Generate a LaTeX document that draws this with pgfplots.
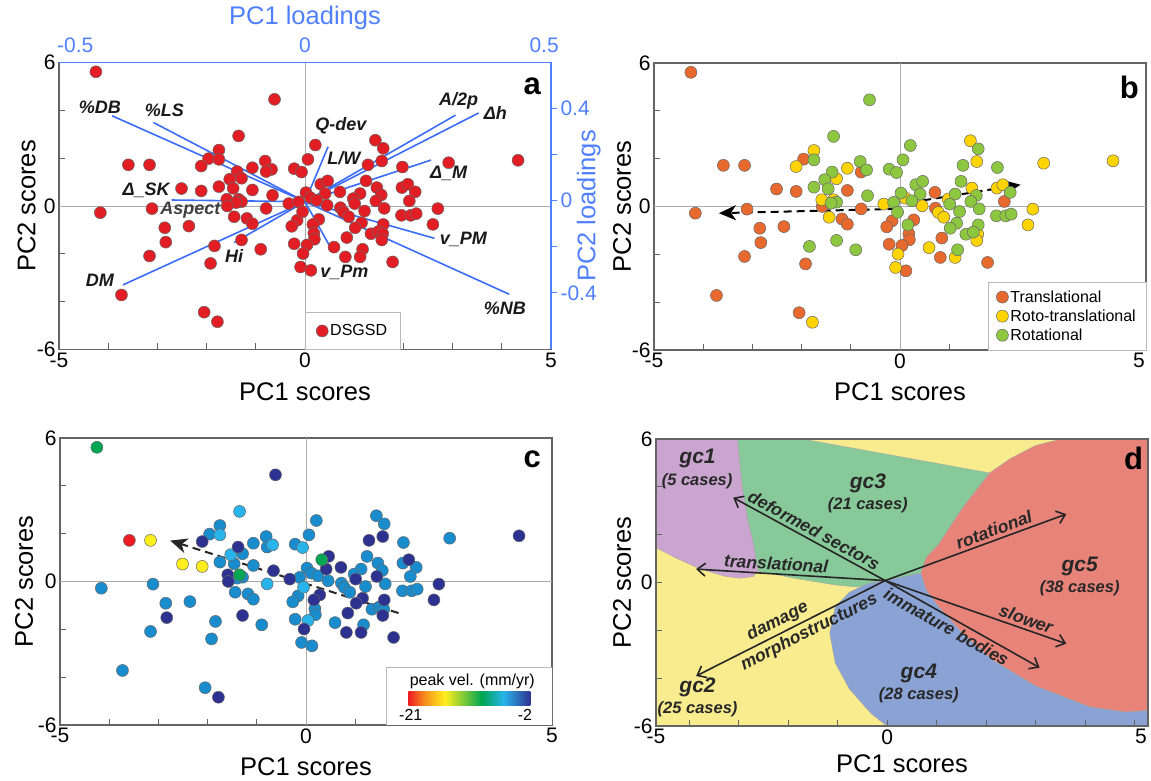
\documentclass[border=0pt]{standalone}
\usepackage{fontspec}
\setmainfont{Liberation Sans}
\usepackage{pgfplots}
\pgfplotsset{compat=1.18}
\usepackage{pgfplotstable}
\usetikzlibrary{arrows.meta}

\definecolor{ptred}{RGB}{226,30,36}
\definecolor{cT}{RGB}{232,105,45}
\definecolor{cR}{RGB}{255,212,0}
\definecolor{cG}{RGB}{141,198,63}
\definecolor{vM}{RGB}{25,140,205}
\definecolor{vL}{RGB}{40,180,234}
\definecolor{vN}{RGB}{45,50,145}
\definecolor{vG}{RGB}{0,166,81}
\definecolor{vR}{RGB}{237,28,36}
\definecolor{vY}{RGB}{255,238,30}
\definecolor{vO}{RGB}{247,148,29}
\definecolor{ldblue}{RGB}{60,108,250}
\definecolor{axblue}{RGB}{80,128,255}
\definecolor{frame}{RGB}{100,100,100}
\definecolor{rY}{RGB}{248,236,142}
\definecolor{rP}{RGB}{201,165,207}
\definecolor{rG}{RGB}{136,201,153}
\definecolor{rR}{RGB}{232,131,122}
\definecolor{rB}{RGB}{138,163,212}
\definecolor{txt}{RGB}{40,40,40}

\pgfdeclarehorizontalshading{jetbar}{100bp}{color(0bp)=(vR); color(25bp)=(vR); color(32bp)=(vO); color(40bp)=(vY); color(55bp)=(vG); color(64bp)=(vL); color(75bp)=(vN); color(100bp)=(vN)}

% PC scores: x y class(0 transl.,1 roto-transl.,2 rotational) velocity class (0 mid,1 light,2 navy,3 green,4 red,5 yellow)
\pgfplotstableread{
x y cls vel
-4.25 5.61 0 3
-0.62 4.46 2 2
-1.35 2.93 2 1
0.21 2.55 2 0
1.43 2.75 1 0
1.59 2.41 2 0
-1.75 2.34 1 0
-1.96 1.98 0 0
-1.75 1.95 2 1
-3.59 1.72 0 4
-3.16 1.72 0 5
-2.11 1.67 1 2
-1.07 1.60 1 0
-0.81 1.88 2 0
-0.68 1.53 2 1
-0.79 1.44 0 0
-0.22 1.56 2 0
-0.07 1.42 2 1
0.06 1.95 2 0
1.56 1.88 1 2
1.28 1.72 2 2
1.98 1.63 2 0
2.92 1.81 1 0
4.33 1.91 1 2
-1.38 1.44 2 2
-1.29 1.16 1 0
-1.53 1.12 2 1
-2.51 0.73 0 5
-2.11 0.63 0 5
-1.75 0.81 2 0
-1.46 0.74 2 0
-1.07 0.67 0 0
-0.66 0.45 2 2
0.32 0.91 2 3
0.46 1.05 2 2
1.24 1.05 2 0
1.46 0.77 1 0
0.71 0.59 0 2
0.41 0.52 2 2
0.02 0.56 2 0
0.11 0.35 1 0
1.12 0.52 2 0
0.98 0.31 1 0
1.55 0.46 2 0
1.97 0.77 1 0
2.09 0.91 1 2
2.24 0.59 2 0
-1.59 0.28 1 2
-1.35 0.28 1 3
-1.29 0.18 2 0
-1.40 0.14 2 0
-0.33 0.10 1 2
-0.13 0.17 2 0
0.24 0.24 2 0
0.45 0.03 1 0
0.72 -0.07 0 0
0.78 -0.25 1 0
1.01 0.10 2 2
1.44 0.21 2 2
1.61 -0.10 2 0
2.12 0.21 0 0
2.70 -0.11 1 2
-4.16 -0.28 0 0
-3.11 -0.11 0 0
-1.58 0.00 0 2
-0.79 -0.10 0 1
-1.44 -0.45 1 0
-1.18 -0.52 0 0
-1.07 -0.74 0 0
-0.16 -0.60 0 0
-0.27 -0.85 0 0
-0.05 -0.24 2 1
0.28 -0.56 0 2
0.16 -0.77 2 2
0.89 -0.45 1 0
1.21 -0.21 2 0
1.15 -0.70 2 2
1.02 -0.91 2 2
1.59 -0.77 2 2
1.96 -0.39 2 0
2.15 -0.39 2 0
2.26 -0.32 2 0
2.60 -0.77 1 2
-2.85 -0.91 0 0
-2.36 -0.84 0 0
-2.83 -1.51 0 2
-1.29 -1.42 2 2
-1.84 -1.67 2 0
-0.90 -1.81 2 0
-0.22 -1.58 0 0
0.18 -1.14 0 0
0.19 -1.39 0 0
0.04 -1.63 0 1
0.59 -1.72 1 0
0.85 -1.32 0 2
1.34 -1.16 2 0
1.49 -1.07 2 0
1.58 -1.16 1 0
1.56 -1.42 1 2
1.17 -1.81 2 0
1.12 -2.13 1 2
0.82 -2.13 0 2
-0.04 -1.99 1 2
-0.09 -2.55 1 0
0.12 -2.69 0 0
-3.16 -2.09 0 0
-1.92 -2.40 0 0
1.78 -2.34 0 2
-3.73 -3.72 0 0
-2.05 -4.44 0 0
-1.78 -4.84 1 2
}\scores

\tikzset{
  ldl/.style={font=\fontsize{18}{18}\selectfont\bfseries\itshape, text=black!90},
  dlab/.style={font=\fontsize{17.5}{17.5}\selectfont\bfseries\itshape, text=txt, inner sep=3pt},
  gcl/.style={font=\fontsize{21}{21}\selectfont\bfseries\itshape, text=txt},
  gcn/.style={font=\fontsize{16.5}{16.5}\selectfont\bfseries\itshape, text=txt},
  plet/.style={font=\fontsize{31}{31}\selectfont\bfseries},
  barb/.tip={Straight Barb[length=8pt,width=13pt,line width=1.6pt]},
  tri/.tip={Stealth[length=17pt,width=15pt,inset=5pt]},
}

\pgfplotsset{
  panel/.style={width=492pt, height=287pt, scale only axis, anchor=south west,
    xmin=-5, xmax=5, ymin=-6, ymax=6,
    xtick={-5,0,5}, ytick={-6,0,6},
    minor xtick={-4,-3,-2,-1,1,2,3,4}, minor ytick={-4,-2,2,4},
    tick align=inside, xtick pos=bottom, ytick pos=left,
    major tick length=6pt, minor tick length=6pt,
    axis line style={frame, line width=1.3pt},
    every tick/.style={frame, line width=0.9pt},
    /pgf/number format/assume math mode=true,
    ticklabel style={font=\fontsize{21}{21}\selectfont},
    label style={font=\fontsize{25.5}{25.5}\selectfont},
    xlabel={PC1 scores}, ylabel={PC2 scores},
    legend cell align=left},
  pts/.style={only marks, mark=*, mark size=6pt, mark options={draw=black!60, line width=0.5pt, fill=#1}},
  cls/.style={restrict expr to domain={\thisrow{cls}}{#1:#1}},
  vel/.style={restrict expr to domain={\thisrow{vel}}{#1:#1}},
  zl/.style={gray!65, line width=0.8pt, forget plot},
  ld/.style={ldblue, line width=1.6pt, forget plot},
  darr/.style={black!85, line width=1.6pt, forget plot},
}

\begin{document}
\begin{tikzpicture}
\path[use as bounding box] (0pt,0pt) rectangle (1151pt,781pt);

% ---------------- panel a ----------------
\begin{axis}[panel, at={(59pt,431.5pt)},
  xlabel style={at={(axis description cs:0.5,-0.147)}, anchor=center},
  ylabel style={at={(axis description cs:-0.066,0.5)}, anchor=center},
  legend style={at={(axis cs:0,-6)}, anchor=south west, draw=gray!55, font=\fontsize{16}{16}\selectfont, inner xsep=11pt, inner ysep=10pt}]
\addplot[zl] coordinates {(-5,0) (5,0)};
\addplot[zl] coordinates {(0,-6) (0,6)};
\addplot[pts=ptred] table[x=x,y=y] {\scores};
\addlegendentry{DSGSD}
\addplot[ld] coordinates {(0,0.18) (-3.92,3.77)};
\addplot[ld] coordinates {(0,0.18) (-3.08,3.49)};
\addplot[ld] coordinates {(0,0.18) (-2.71,0.25)};
\addplot[ld] coordinates {(0,0.18) (-3.70,-3.30)};
\addplot[ld] coordinates {(0,0.18) (-1.44,-1.53)};
\addplot[ld] coordinates {(0,0.18) (0.47,2.48)};
\addplot[ld] coordinates {(0,0.18) (3.06,3.80)};
\addplot[ld] coordinates {(0,0.18) (3.53,3.89)};
\addplot[ld] coordinates {(0,0.18) (2.56,1.92)};
\addplot[ld] coordinates {(0,0.18) (2.63,-1.35)};
\addplot[ld] coordinates {(0,0.18) (4.15,-3.69)};
\addplot[ld] coordinates {(0,0.18) (0.49,-1.63)};
\node[ldl] at (axis cs:-4.17,4.14) {\%DB};
\node[ldl] at (axis cs:-2.86,4.00) {\%LS};
\node[ldl] at (axis cs:-3.23,0.67) {Δ\_SK};
\node[ldl, text=black!75] at (axis cs:-2.33,-0.17) {Aspect};
\node[ldl] at (axis cs:-4.17,-3.12) {DM};
\node[ldl] at (axis cs:-1.44,-2.09) {Hi};
\node[ldl] at (axis cs:0.73,3.34) {Q-dev};
\node[ldl] at (axis cs:0.79,1.99) {L/W};
\node[ldl] at (axis cs:3.12,4.38) {A/2p};
\node[ldl] at (axis cs:3.87,3.87) {Δh};
\node[ldl] at (axis cs:2.92,1.36) {Δ\_M};
\node[ldl] at (axis cs:3.22,-1.38) {v\_PM};
\node[ldl] at (axis cs:0.80,-2.78) {v\_Pm};
\node[ldl] at (axis cs:4.06,-4.27) {\%NB};
\node[plet] at (axis cs:4.62,5.0) {a};
\end{axis}

% loadings axes of panel a
\begin{axis}[width=492pt, height=287pt, scale only axis, anchor=south west, at={(59pt,431.5pt)},
  xmin=-0.5, xmax=0.5, ymin=-0.646, ymax=0.600,
  axis x line*=top, axis y line*=right,
  axis line style={axblue, line width=1.3pt},
  xtick={-0.467,0,0.486}, xticklabels={-0.5,0,0.5},
  ytick={-0.4,-0.2,0,0.2,0.4}, yticklabels={-0.4,,0,,0.4},
  xtick style={draw=none}, ytick style={axblue, line width=0.9pt},
  tick align=outside, major tick length=6pt,
  ticklabel style={font=\fontsize{21}{21}\selectfont, text=axblue},
  label style={font=\fontsize{25.5}{25.5}\selectfont, text=axblue},
  xlabel={PC1 loadings}, ylabel={PC2 loadings},
  xlabel style={at={(axis description cs:0.5,1.157)}, anchor=center},
  ylabel style={at={(axis description cs:1.077,0.5)}, anchor=center}]
\addplot[draw=none] coordinates {(0,0)};
\end{axis}

% ---------------- panel b ----------------
\begin{axis}[panel, at={(654pt,431pt)}, xticklabels={-5,0,{\hspace*{-14pt}5}},
  xlabel style={at={(axis description cs:0.5,-0.145)}, anchor=center},
  ylabel style={at={(axis description cs:-0.065,0.5)}, anchor=center},
  legend style={at={(axis cs:5,-6)}, anchor=south east, draw=gray!55, font=\fontsize{16}{16}\selectfont, inner xsep=8pt, inner ysep=6pt, row sep=2pt}]
\addplot[zl] coordinates {(-5,0) (5,0)};
\addplot[zl] coordinates {(0,-6) (0,6)};
\addplot[pts=cT, cls=0] table[x=x,y=y] {\scores};
\addlegendentry{Translational}
\addplot[pts=cR, cls=1] table[x=x,y=y] {\scores};
\addlegendentry{Roto-translational}
\addplot[pts=cG, cls=2] table[x=x,y=y] {\scores};
\addlegendentry{Rotational}
\addplot[forget plot, black, line width=2pt, dash pattern=on 8pt off 5pt, -{tri}] coordinates {(-0.09,-0.10) (-3.68,-0.28)};
\addplot[forget plot, black, line width=2pt, dash pattern=on 8pt off 5pt, -{tri}] coordinates {(0.21,0.17) (2.45,0.91)};
\node[plet] at (axis cs:4.66,4.99) {b};
\end{axis}

% ---------------- panel c ----------------
\begin{axis}[panel, at={(60pt,56pt)},
  xlabel style={at={(axis description cs:0.5,-0.145)}, anchor=center},
  ylabel style={at={(axis description cs:-0.073,0.5)}, anchor=center}]
\addplot[zl] coordinates {(-5,0) (5,0)};
\addplot[zl] coordinates {(0,-6) (0,6)};
\addplot[pts=vM, vel=0, forget plot] table[x=x,y=y] {\scores};
\addplot[pts=vL, vel=1, forget plot] table[x=x,y=y] {\scores};
\addplot[pts=vN, vel=2, forget plot] table[x=x,y=y] {\scores};
\addplot[pts=vG, vel=3, forget plot] table[x=x,y=y] {\scores};
\addplot[pts=vR, vel=4, forget plot] table[x=x,y=y] {\scores};
\addplot[pts=vY, vel=5, forget plot] table[x=x,y=y] {\scores};
\addplot[forget plot, black!85, line width=2pt, dash pattern=on 8pt off 5pt, -{tri}] coordinates {(1.88,-1.32) (-2.76,1.71)};
\draw[gray!55, fill=white, line width=0.8pt] (axis cs:1.63,-6) rectangle (axis cs:5,-3.58);
\node[font=\fontsize{16}{16}\selectfont] at (axis cs:3.38,-4.18) {peak vel. (mm/yr)};
\shade[shading=jetbar] (axis cs:2.08,-5.18) rectangle (axis cs:4.56,-4.62);
\node[font=\fontsize{16}{16}\selectfont] at (axis cs:2.13,-5.57) {-21};
\node[font=\fontsize{16}{16}\selectfont] at (axis cs:4.45,-5.57) {-2};
\node[plet] at (axis cs:4.6,5.12) {c};
\end{axis}

% ---------------- panel d ----------------
\begin{axis}[panel, at={(656pt,55pt)}, xmin=-4.67, xmax=5.27,
  xtick={-4.67,0,5.27}, xticklabels={-5,0,{\hspace*{-14pt}5}},
  minor xtick={-4,-3,-2,-1,1,2,3,4,5},
  axis on top, axis background/.style={fill=rY},
  xlabel style={at={(axis description cs:0.5,-0.132)}, anchor=center},
  ylabel style={at={(axis description cs:-0.069,0.5)}, anchor=center}]
\addplot[fill=rP, draw=black!35, line width=0.4pt, forget plot] coordinates {(-4.67,6) (-3.02,6) (-2.93,4.07) (-2.82,2.70) (-2.71,1.73) (-2.60,0.50) (-2.71,0.25) (-2.96,0.18) (-3.26,0.25) (-3.77,0.56) (-4.29,1.05) (-4.67,1.46)} -- cycle;
\addplot[fill=rG, draw=black!35, line width=0.4pt, forget plot] coordinates {(-3.02,6) (-1.71,6) (2.07,4.58) (1.52,3.11) (1.04,1.60) (0.68,0.39) (-0.04,0.08) (-0.61,-0.19) (-1.05,-0.10) (-1.79,0.15) (-2.60,0.47) (-2.71,1.73) (-2.82,2.70) (-2.93,4.07)} -- cycle;
\addplot[fill=rR, draw=black!35, line width=0.4pt, forget plot] coordinates {(3.51,6) (5.27,6) (5.27,-5.35) (4.83,-5.42) (4.10,-5.21) (2.99,-4.32) (2.11,-3.22) (1.52,-2.12) (1.04,-1.02) (0.79,-0.33) (0.68,0.39) (0.79,1.05) (1.04,1.60) (1.52,3.11) (2.07,4.58) (2.48,5.17) (2.99,5.72)} -- cycle;
\addplot[fill=rB, draw=black!35, line width=0.4pt, forget plot] coordinates {(-0.04,0.08) (0.68,0.39) (0.79,-0.33) (1.04,-1.02) (1.52,-2.12) (2.11,-3.22) (2.99,-4.32) (4.10,-5.21) (4.83,-5.42) (5.27,-5.35) (5.27,-6) (0,-6) (-0.32,-5.49) (-0.76,-4.46) (-1.05,-3.36) (-1.16,-2.12) (-1.05,-1.02) (-0.76,-0.40) (-0.39,-0.05)} -- cycle;
\addplot[darr, {barb}-] coordinates {(-3.11,3.55) (-0.04,0.08)} node[pos=0.50, sloped, above, dlab] {deformed sectors};
\addplot[darr, {barb}-] coordinates {(-3.86,0.56) (-0.04,0.08)} node[pos=0.42, sloped, above, dlab] {translational};
\addplot[darr, -{barb}] coordinates {(-0.04,0.08) (3.62,2.86)} node[pos=0.62, sloped, above, dlab] {rotational};
\addplot[darr, -{barb}] coordinates {(-0.04,0.08) (3.62,-2.56)} node[pos=0.76, sloped, above, dlab] {slower};
\addplot[darr, -{barb}] coordinates {(-0.04,0.08) (3.08,-3.56)} node[pos=0.43, sloped, below, dlab] {immature bodies};
\addplot[darr, {barb}-] coordinates {(-3.86,-3.91) (-0.04,0.08)} node[pos=0.46, sloped, above, dlab] {damage} node[pos=0.57, sloped, below, dlab] {morphostructures};
\node[gcl] at (axis cs:-3.83,5.17) {gc1};
\node[gcn] at (axis cs:-3.84,4.24) {(5 cases)};
\node[gcl] at (axis cs:-0.39,4.14) {gc3};
\node[gcn] at (axis cs:-0.39,3.22) {(21 cases)};
\node[gcl] at (axis cs:3.89,0.66) {gc5};
\node[gcn] at (axis cs:3.89,-0.23) {(38 cases)};
\node[gcl] at (axis cs:0.64,-3.80) {gc4};
\node[gcn] at (axis cs:0.64,-4.71) {(28 cases)};
\node[gcl] at (axis cs:-3.83,-4.39) {gc2};
\node[gcn] at (axis cs:-3.83,-5.31) {(25 cases)};
\node[plet] at (axis cs:4.98,5.17) {d};
\end{axis}
\end{tikzpicture}
\end{document}
